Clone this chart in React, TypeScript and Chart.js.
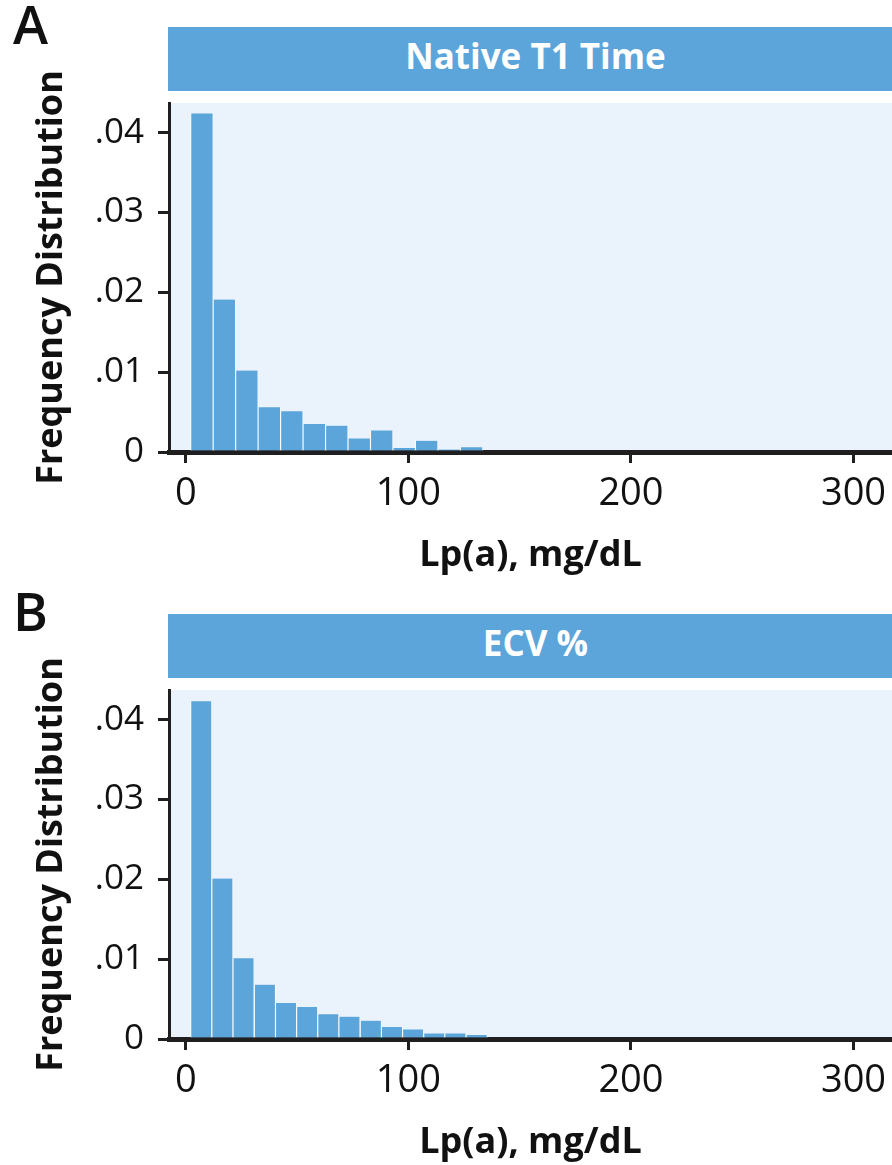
import React, { useEffect, useRef } from 'react';
import { Chart, registerables } from 'chart.js';

Chart.register(...registerables);

// ---- data ----
const binCentersA = [7.2, 17.3, 27.4, 37.5, 47.6, 57.7, 67.8, 77.9, 88.0, 98.1, 108.2, 118.3, 128.4];
const frequencyA = [0.0424, 0.0191, 0.0102, 0.0056, 0.0051, 0.0035, 0.0033, 0.0017, 0.0027, 0.0005, 0.0014, 0.0003, 0.0006];

const binCentersB = [6.9, 16.4, 25.9, 35.5, 45.0, 54.5, 64.0, 73.5, 83.1, 92.6, 102.1, 111.6, 121.1, 130.7, 140.2, 149.7, 159.2, 168.7];
const frequencyB = [0.0423, 0.0201, 0.0101, 0.0068, 0.0045, 0.0040, 0.0031, 0.0028, 0.0023, 0.0015, 0.0012, 0.0007, 0.0007, 0.0005, 0.0002, 0.0002, 0.0002, 0.0002];

const xTicks = [0, 100, 200, 300];
const yTicks = [0, 0.01, 0.02, 0.03, 0.04];
const panelLetters = ['A', 'B'];
const panelTitles = ['Native T1 Time', 'ECV %'];
const xAxisTitle = 'Lp(a), mg/dL';
const yAxisTitle = 'Frequency Distribution';

const BAR_COLOR = '#5CA5DA';
const HEADER_COLOR = '#5CA5DA';
const PLOT_BG = '#EAF2FB';
const AXIS_COLOR = '#1f1f1f';
const FONT = '"Open Sans", "DejaVu Sans", sans-serif';

const plotBg = {
  id: 'plotBg',
  beforeDraw(chart: any) {
    const { ctx, chartArea } = chart;
    ctx.save();
    ctx.fillStyle = PLOT_BG;
    ctx.fillRect(chartArea.left, chartArea.top, chartArea.right - chartArea.left, chartArea.bottom - chartArea.top);
    ctx.restore();
  },
};

function HistPanel(props: { top: number; letter: string; title: string; centers: number[]; values: number[] }) {
  const ref = useRef<HTMLCanvasElement | null>(null);
  const headerTop = props.top;
  const canvasTop = props.top + 41;

  useEffect(() => {
    if (!ref.current) return;
    const chart = new Chart(ref.current, {
      type: 'bar',
      data: {
        datasets: [
          {
            data: props.centers.map((x, i) => ({ x, y: props.values[i] })),
            backgroundColor: BAR_COLOR,
            borderColor: '#ffffff',
            borderWidth: { left: 0.9, right: 0.9, top: 0, bottom: 0 },
            borderSkipped: false,
            barPercentage: 1,
            categoryPercentage: 1,
          } as any,
        ],
      },
      options: {
        animation: false,
        responsive: false,
        events: [],
        layout: { padding: { top: 35, right: 0, bottom: 0, left: 0 } },
        plugins: { legend: { display: false }, tooltip: { enabled: false } },
        scales: {
          x: {
            type: 'linear',
            offset: false,
            min: -7.6,
            max: 317.3,
            afterBuildTicks: (scale: any) => {
              scale.ticks = xTicks.map((v) => ({ value: v }));
            },
            afterFit: (scale: any) => {
              scale.height = 130;
              scale.paddingLeft = 0;
              scale.paddingRight = 0;
            },
            grid: {
              offset: false,
              drawOnChartArea: false,
              drawTicks: true,
              tickLength: 11,
              tickWidth: 3,
              tickColor: AXIS_COLOR,
              lineWidth: 3,
              color: AXIS_COLOR,
            },
            border: { display: true, width: 5, color: AXIS_COLOR },
            ticks: {
              color: '#111',
              font: { family: FONT, size: 38 },
              padding: 8,
              maxRotation: 0,
              autoSkip: false,
              callback: (v: any) => String(v),
            },
            title: {
              display: true,
              text: xAxisTitle,
              color: '#111',
              font: { family: FONT, size: 36, weight: 'bold' },
              padding: { top: 0, bottom: 5 },
            },
          },
          y: {
            type: 'linear',
            min: 0,
            max: 0.0437,
            z: 1,
            afterBuildTicks: (scale: any) => {
              scale.ticks = yTicks.map((v) => ({ value: v }));
            },
            afterFit: (scale: any) => {
              scale.width = 169;
              scale.paddingTop = 0;
              scale.paddingBottom = 0;
            },
            grid: {
              drawOnChartArea: false,
              drawTicks: true,
              tickLength: 11,
              tickWidth: 3,
              tickColor: AXIS_COLOR,
              lineWidth: 3,
              color: AXIS_COLOR,
            },
            border: { display: true, width: 3, color: AXIS_COLOR },
            ticks: {
              color: '#111',
              font: { family: FONT, size: 35 },
              padding: 14,
              autoSkip: false,
              callback: (v: any) => (v === 0 ? '0' : String(v).replace(/^0/, '')),
            },
            title: {
              display: true,
              text: yAxisTitle,
              color: '#111',
              font: { family: FONT, size: 36, weight: 'bold' },
              padding: { top: 30, bottom: 0 },
            },
          },
        },
      } as any,
      plugins: [plotBg],
    });
    return () => chart.destroy();
  }, []);

  return (
    <>
      <div
        style={{
          position: 'absolute',
          left: 13,
          top: headerTop - 30,
          font: `600 53px ${FONT}`,
          lineHeight: 1,
          color: '#111',
        }}
      >
        {props.letter}
      </div>
      <div
        style={{
          position: 'absolute',
          left: 168,
          top: headerTop,
          width: 724,
          height: 63.5,
          background: HEADER_COLOR,
          color: '#fff',
          font: `700 35px ${FONT}`,
          display: 'flex',
          alignItems: 'center',
          justifyContent: 'center',
          paddingLeft: 11,
          boxSizing: 'border-box',
        }}
      >
        <span style={{ position: 'relative', top: -3 }}>{props.title}</span>
      </div>
      <canvas
        ref={ref}
        width={892}
        height={514}
        style={{ position: 'absolute', left: 0, top: canvasTop, display: 'block' }}
      />
    </>
  );
}

export default function App() {
  return (
    <div
      style={{
        position: 'absolute',
        left: 0,
        top: 0,
        width: 892,
        height: 1165,
        overflow: 'hidden',
        background: '#fff',
      }}
    >
      <HistPanel top={27} letter={panelLetters[0]} title={panelTitles[0]} centers={binCentersA} values={frequencyA} />
      <HistPanel top={614} letter={panelLetters[1]} title={panelTitles[1]} centers={binCentersB} values={frequencyB} />
    </div>
  );
}
